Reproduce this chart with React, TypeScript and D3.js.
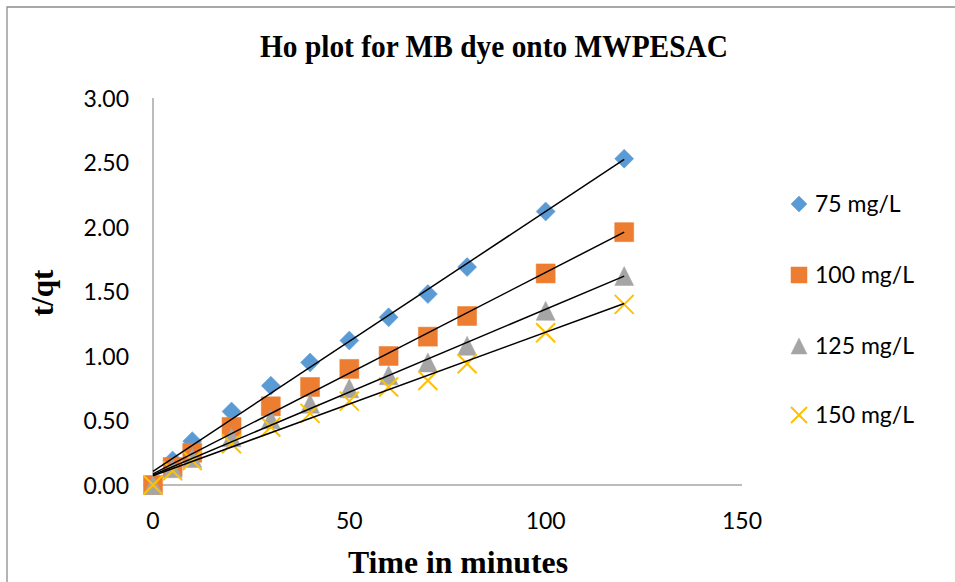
import * as d3 from "d3";
import { useEffect, useRef } from "react";

const times = [0, 5, 10, 20, 30, 40, 50, 60, 70, 80, 100, 120];
const seriesNames = ["75 mg/L", "100 mg/L", "125 mg/L", "150 mg/L"];
const tq75 = [0, 0.19, 0.34, 0.57, 0.77, 0.95, 1.12, 1.3, 1.48, 1.69, 2.12, 2.53];
const tq100 = [0, 0.14, 0.25, 0.45, 0.61, 0.76, 0.9, 1.0, 1.15, 1.31, 1.64, 1.96];
const tq125 = [0, 0.13, 0.21, 0.37, 0.51, 0.63, 0.75, 0.85, 0.95, 1.08, 1.35, 1.62];
const tq150 = [0, 0.11, 0.19, 0.32, 0.45, 0.555, 0.65, 0.76, 0.81, 0.94, 1.18, 1.4];
const xTicks = [0, 50, 100, 150];
const yTicks = [0, 0.5, 1, 1.5, 2, 2.5, 3];

const colors = ["#5B9BD5", "#ED7D31", "#A5A5A5", "#FFC000"];
const shapes = ["diamond", "square", "triangle", "cross"];

function markerPath(shape: string, s: number) {
	const h = s / 2;
	if (shape === "diamond") return `M0,${-h}L${h},0L0,${h}L${-h},0Z`;
	if (shape === "square") return `M${-h},${-h}h${s}v${s}h${-s}Z`;
	if (shape === "triangle") return `M0,${-h}L${h},${h}L${-h},${h}Z`;
	return `M${-h},${-h}L${h},${h}M${h},${-h}L${-h},${h}`;
}

// least squares line through the points
function fit(xs: number[], ys: number[]) {
	const mx = d3.mean(xs) as number;
	const my = d3.mean(ys) as number;
	let num = 0;
	let den = 0;
	xs.forEach((x, i) => {
		num += (x - mx) * (ys[i] - my);
		den += (x - mx) * (x - mx);
	});
	const slope = num / den;
	return { slope, intercept: my - slope * mx };
}

function App() {
	const ref = useRef<SVGSVGElement>(null);

	useEffect(() => {
		const svg = d3.select(ref.current);
		svg.selectAll("*").remove();

		const x = d3.scaleLinear().domain([0, 150]).range([153, 742]);
		const y = d3.scaleLinear().domain([0, 3]).range([485, 98]);
		const allSeries = [tq75, tq100, tq125, tq150];

		// outer frame (only top and left edges visible)
		svg.append("path")
			.attr("d", "M7,582V7H955")
			.attr("fill", "none")
			.attr("stroke", "#8C8C8C")
			.attr("stroke-width", 1.3);

		svg.append("text")
			.attr("x", 494)
			.attr("y", 57)
			.attr("text-anchor", "middle")
			.attr("textLength", 468)
			.attr("lengthAdjust", "spacingAndGlyphs")
			.style("font-family", "'Liberation Serif', serif")
			.style("font-weight", "bold")
			.style("font-size", "31px")
			.text("Ho plot for MB dye onto MWPESAC");

		// axes
		svg.append("line")
			.attr("x1", x(0))
			.attr("x2", x(0))
			.attr("y1", y(3))
			.attr("y2", y(0))
			.attr("stroke", "#A6A6A6")
			.attr("stroke-width", 1.5);
		svg.append("line")
			.attr("x1", x(0))
			.attr("x2", x(150))
			.attr("y1", y(0))
			.attr("y2", y(0))
			.attr("stroke", "#A6A6A6")
			.attr("stroke-width", 1.5);

		svg.append("g")
			.selectAll("text")
			.data(yTicks)
			.enter()
			.append("text")
			.attr("x", 129)
			.attr("y", (d) => y(d) + 8.5)
			.attr("text-anchor", "end")
			.style("font-family", "Lato, sans-serif")
			.style("font-size", "23px")
			.text((d) => d.toFixed(2));

		svg.append("g")
			.selectAll("text")
			.data(xTicks)
			.enter()
			.append("text")
			.attr("x", (d) => x(d))
			.attr("y", 529)
			.attr("text-anchor", "middle")
			.style("font-family", "Lato, sans-serif")
			.style("font-size", "23px")
			.text((d) => String(d));

		svg.append("text")
			.attr("x", 458)
			.attr("y", 573)
			.attr("text-anchor", "middle")
			.attr("textLength", 220)
			.attr("lengthAdjust", "spacingAndGlyphs")
			.style("font-family", "'Liberation Serif', serif")
			.style("font-weight", "bold")
			.style("font-size", "31px")
			.text("Time in minutes");

		svg.append("text")
			.attr("transform", "translate(53,293) rotate(-90)")
			.attr("text-anchor", "middle")
			.style("font-family", "'Liberation Serif', serif")
			.style("font-weight", "bold")
			.style("font-size", "31px")
			.text("t/qt");

		// markers
		allSeries.forEach((vals, si) => {
			const g = svg.append("g");
			g.selectAll("path")
				.data(vals)
				.enter()
				.append("path")
				.attr("transform", (d, i) => `translate(${x(times[i])},${y(d)})`)
				.attr("d", markerPath(shapes[si], 19))
				.attr("fill", shapes[si] === "cross" ? "none" : colors[si])
				.attr("stroke", colors[si])
				.attr("stroke-width", shapes[si] === "cross" ? 2 : 0.5);
		});

		// trendlines
		allSeries.forEach((vals) => {
			const f = fit(times, vals);
			svg.append("line")
				.attr("x1", x(0))
				.attr("y1", y(f.intercept))
				.attr("x2", x(120))
				.attr("y2", y(f.intercept + f.slope * 120))
				.attr("stroke", "#000")
				.attr("stroke-width", 1.5);
		});

		// legend
		const legendY = [204, 275, 346, 415];
		seriesNames.forEach((name, si) => {
			const lg = svg.append("g").attr("transform", `translate(799,${legendY[si]})`);
			lg.append("path")
				.attr("d", markerPath(shapes[si], 16))
				.attr("fill", shapes[si] === "cross" ? "none" : colors[si])
				.attr("stroke", colors[si])
				.attr("stroke-width", shapes[si] === "cross" ? 2 : 0.5);
			lg.append("text")
				.attr("x", 16)
				.attr("y", 8)
				.style("font-family", "Lato, sans-serif")
				.style("font-size", "23px")
				.text(name);
		});
	}, []);

	return (
		<div>
			<svg
				ref={ref}
				width={955}
				height={582}
				style={{ position: "absolute", left: 0, top: 0, background: "#fff" }}
			></svg>
		</div>
	);
}

export default App;
